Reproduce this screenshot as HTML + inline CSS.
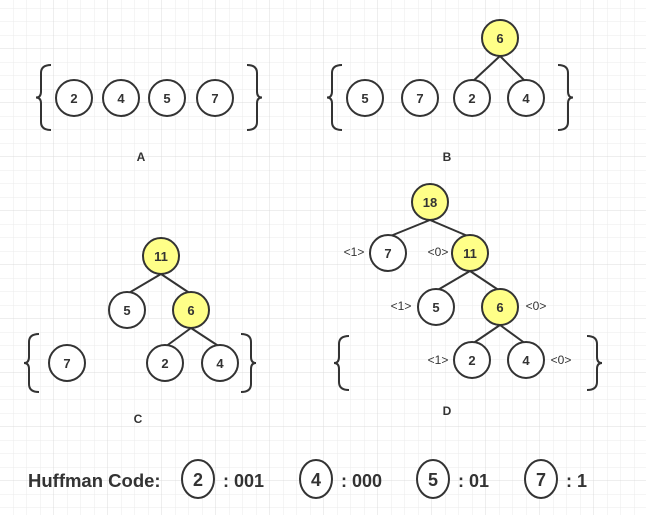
<!DOCTYPE html>
<html><head><meta charset="utf-8"><style>
html,body{margin:0;padding:0;background:#fff}
svg{display:block}
text{font-family:"Liberation Sans","DejaVu Sans",sans-serif;fill:#333}
</style></head><body>
<svg id="s" width="646" height="515" viewBox="0 0 646 515">
<defs>
<pattern id="minor" x="0" y="-5" width="13.5" height="13.5" patternUnits="userSpaceOnUse"><path d="M13.5 0V13.5M0 13.5H13.5" stroke="#ebebeb" stroke-width="1" fill="none"/></pattern>
<pattern id="major" x="0" y="-5" width="54" height="54" patternUnits="userSpaceOnUse"><path d="M54 0V54M0 54H54" stroke="#dcdcdc" stroke-width="1" fill="none"/></pattern>
</defs>
<rect width="646" height="515" fill="url(#minor)"/>
<rect width="646" height="515" fill="url(#major)"/>
<g id="g"></g>
</svg>
<script>
const NS='http://www.w3.org/2000/svg';
const g=document.getElementById('g');
function mk(tag,attrs,name){const e=document.createElementNS(NS,tag);for(const k in attrs)e.setAttribute(k,attrs[k]);


g.appendChild(e);return e;}
function txt(x,y,s,name,size,weight,anchor){const t=mk('text',{x:x,y:y,'font-size':size||13,'font-weight':weight||'normal','text-anchor':anchor||'middle'},name);t.textContent=s;return t;}
const R=18;
function node(x,y,v,yellow,name){mk('circle',{cx:x,cy:y,r:R,fill:yellow?'#ffff88':'#fff',stroke:'#333','stroke-width':2},name);txt(x,y+5,v,name+'-label',13,'bold');}
function edge(a,b,name){mk('line',{x1:a[0],y1:a[1]+R,x2:b[0],y2:b[1]-R+2,stroke:'#333','stroke-width':2},name);}
function brace(x,y1,y2,left,name){const m=(y1+y2)/2,d=left?1:-1,w=10;
mk('path',{d:`M${x+d*w} ${y1} Q${x} ${y1} ${x} ${y1+8} L${x} ${m-6} Q${x} ${m} ${x-d*5} ${m} Q${x} ${m} ${x} ${m+6} L${x} ${y2-8} Q${x} ${y2} ${x+d*w} ${y2}`,fill:'none',stroke:'#333','stroke-width':2},name);}
// A
brace(41,65,130,true,'brace-left-a');brace(257,65,130,false,'brace-right-a');
node(74,98,'2',0,'a-node-2');node(121,98,'4',0,'a-node-4');node(167,98,'5',0,'a-node-5');node(215,98,'7',0,'a-node-7');
txt(141,161,'A','label-a',12,'bold');
// B
brace(332,65,130,true,'brace-left-b');brace(568,65,130,false,'brace-right-b');
edge([500,38],[472,98],'b-edge-6-2');edge([500,38],[526,98],'b-edge-6-4');
node(500,38,'6',1,'b-node-6');node(365,98,'5',0,'b-node-5');node(420,98,'7',0,'b-node-7');node(472,98,'2',0,'b-node-2');node(526,98,'4',0,'b-node-4');
txt(447,161,'B','label-b',12,'bold');
// C
brace(29,334,392,true,'brace-left-c');brace(251,334,392,false,'brace-right-c');
edge([161,256],[127,310],'c-edge-11-5');edge([161,256],[191,310],'c-edge-11-6');edge([191,310],[165,363],'c-edge-6-2');edge([191,310],[220,363],'c-edge-6-4');
node(161,256,'11',1,'c-node-11');node(127,310,'5',0,'c-node-5');node(191,310,'6',1,'c-node-6');node(67,363,'7',0,'c-node-7');node(165,363,'2',0,'c-node-2');node(220,363,'4',0,'c-node-4');
txt(138,423,'C','label-c',12,'bold');
// D
brace(339,336,390,true,'brace-left-d');brace(597,336,390,false,'brace-right-d');
edge([430,202],[388,253],'d-edge-18-7');edge([430,202],[470,253],'d-edge-18-11');edge([470,253],[436,307],'d-edge-11-5');edge([470,253],[500,307],'d-edge-11-6');edge([500,307],[472,360],'d-edge-6-2');edge([500,307],[526,360],'d-edge-6-4');
node(430,202,'18',1,'d-node-18');node(388,253,'7',0,'d-node-7');node(470,253,'11',1,'d-node-11');node(436,307,'5',0,'d-node-5');node(500,307,'6',1,'d-node-6');node(472,360,'2',0,'d-node-2');node(526,360,'4',0,'d-node-4');
txt(354,256,'<1>','d-code-7',12);txt(438,256,'<0>','d-code-11',12);txt(401,310,'<1>','d-code-5',12);txt(536,310,'<0>','d-code-6',12);txt(438,364,'<1>','d-code-2',12);txt(561,364,'<0>','d-code-4',12);
txt(447,415,'D','label-d',12,'bold');
// Codes
txt(28,487,'Huffman Code:','huffman-code-title',18.5,'bold','start');
const codes=[[198,'2',': 001'],[316,'4',': 000'],[433,'5',': 01'],[541,'7',': 1']];
codes.forEach(c=>{mk('ellipse',{cx:c[0],cy:479,rx:16,ry:19,fill:'#fff',stroke:'#333','stroke-width':2},'code-symbol-'+c[1]);
txt(c[0],486,c[1],'code-symbol-text-'+c[1],18,'bold');
txt(c[0]+25,487,c[2],'code-value-'+c[1],18,'bold','start');});
</script>
</body></html>
